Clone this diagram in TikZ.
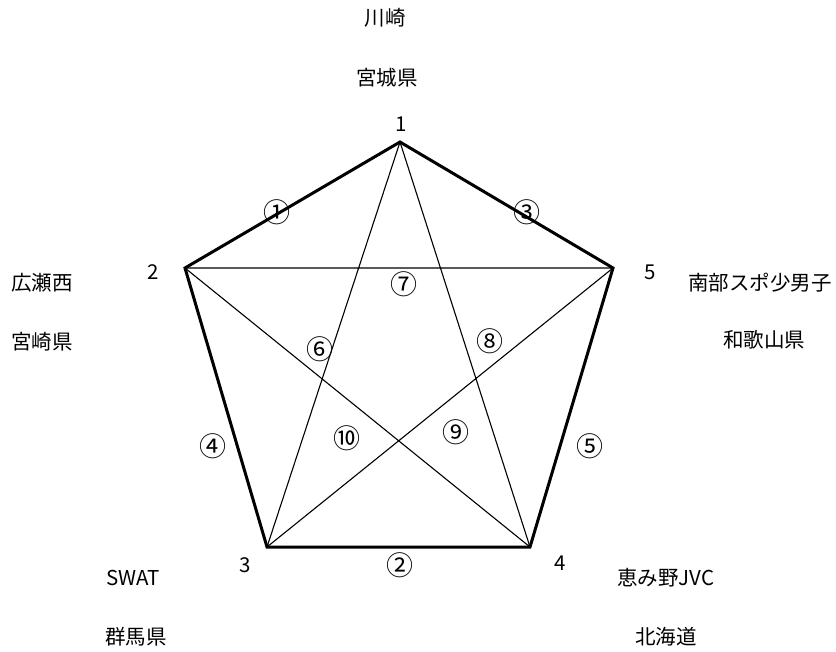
\documentclass[tikz,border=0pt]{standalone}
\usepackage{fontspec}
\setmainfont{Noto Sans CJK JP}

\begin{document}
\begin{tikzpicture}[x=1pt,y=-1pt,font=\fontsize{20.5}{24}\selectfont,
    edge/.style={line width=3pt,line join=miter},
    diag/.style={line width=1.1pt},
    matchno/.style={font=\fontsize{27}{30}\selectfont}]
		\useasboundingbox (0,0) rectangle (836,652);

		% vertices
		\coordinate (v1) at (400,142);
		\coordinate (v2) at (185,268);
		\coordinate (v3) at (267,547);
		\coordinate (v4) at (530,547);
		\coordinate (v5) at (613,268);

		\draw[edge] (v1) -- (v2) -- (v3) -- (v4) -- (v5) -- cycle;
		\draw[diag] (v1) -- (v3) (v1) -- (v4) (v2) -- (v5) (v2) -- (v4) (v3) -- (v5);

		% vertex numbers
		\node (n1) at (401,124) {1};
		\node (n2) at (153,272) {2};
		\node (n3) at (245,565) {3};
		\node (n4) at (560,563) {4};
		\node (n5) at (650,272) {5};

		% teams
		\node (t1a) at (385,18) {川崎};
		\node (t1b) at (387,78) {宮城県};
		\node (t2a) at (42,283) {広瀬西};
		\node (t2b) at (42,342) {宮崎県};
		\node (t3a) at (133,578) {SWAT};
		\node (t3b) at (136,637) {群馬県};
		\node (t4a) at (666,578) {恵み野JVC};
		\node (t4b) at (666,637) {北海道};
		\node (t5a) at (760,283) {南部スポ少男子};
		\node (t5b) at (764,340) {和歌山県};

		% match numbers
		\node[matchno] (m1) at (277,212) {①};
		\node[matchno] (m2) at (400,565) {②};
		\node[matchno] (m3) at (527,212) {③};
		\node[matchno] (m4) at (213,446) {④};
		\node[matchno] (m5) at (590,446) {⑤};
		\node[matchno] (m6) at (320,349) {⑥};
		\node[matchno] (m7) at (404,284) {⑦};
		\node[matchno] (m8) at (490,341) {⑧};
		\node[matchno] (m9) at (456,432) {⑨};
		\node[matchno] (m10) at (347,438) {⑩};
\end{tikzpicture}
\end{document}
